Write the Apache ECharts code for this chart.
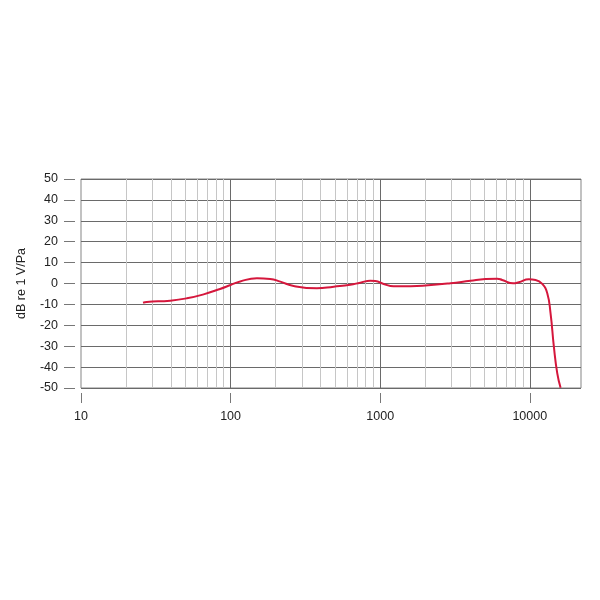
<!DOCTYPE html>
<html>
<head>
<meta charset="utf-8">
<script src="https://cdn.jsdelivr.net/npm/echarts@6/dist/echarts.min.js"></script>
<style>
  html, body { margin: 0; padding: 0; background: #fff; }
  #chart { width: 600px; height: 600px; }
</style>
</head>
<body>
<div id="chart"></div>
<script>
// frequency response
const freqs = [26, 27.5, 39.5, 51, 66, 85, 100, 116, 150, 184, 215, 264, 378, 489, 631, 736, 859, 928,
  1055, 1230, 1600, 2005, 2950, 4015, 5060, 6060, 6540, 7750, 8450, 9860, 10930, 12120, 13090,
  13770, 14490, 15270, 16070]
const levels = [-9.2, -8.8, -8.2, -7.1, -5.2, -2.6, -0.7, 1.0, 2.5, 2.2, 0.9, -1.2, -2.3, -1.5, -0.6, 0.4, 1.3, 1.2,
  -0.2, -1.3, -1.3, -1.0, 0.1, 1.3, 2.1, 2.3, 1.7, 0.1, 0.6, 2.0, 1.7, -0.2, -4.7,
  -14.3, -30.2, -43.0, -49.9]

const xTicks = [10, 100, 1000, 10000]
const majorLines = [100, 1000, 10000]
const minorLines = []
for (const d of [10, 100, 1000]) {
  for (let k = 2; k <= 9; k++) minorLines.push(d * k)
}

const font = 'Liberation Sans, Arial, sans-serif'
const textColor = '#222'

const chart = echarts.init(document.getElementById('chart'))

const option = {
  animation: false,
  grid: {
    left: 81,
    right: 19,
    top: 179,
    bottom: 212,
    show: true,
    borderColor: '#858585',
    borderWidth: 1,
    backgroundColor: 'transparent'
  },
  xAxis: {
    type: 'log',
    logBase: 10,
    min: 10,
    max: 22000,
    offset: 5,
    axisLine: { show: false, onZero: false },
    axisTick: {
      show: true,
      length: 10,
      customValues: xTicks,
      lineStyle: { color: '#777' }
    },
    axisLabel: {
      customValues: xTicks,
      formatter: v => String(Math.round(v)),
      margin: 17,
      fontSize: 12.5,
      fontFamily: font,
      color: textColor
    },
    splitLine: { show: false }
  },
  yAxis: {
    type: 'value',
    min: -50,
    max: 50,
    interval: 10,
    offset: 6,
    name: 'dB re 1 V/Pa',
    nameLocation: 'middle',
    nameGap: 47,
    nameTextStyle: {
      fontSize: 12.5,
      fontFamily: font,
      color: textColor
    },
    axisLine: { show: false, onZero: false },
    axisTick: {
      show: true,
      length: 11,
      lineStyle: { color: '#777' }
    },
    axisLabel: {
      margin: 17,
      fontSize: 12.5,
      fontFamily: font,
      color: textColor
    },
    splitLine: {
      show: true,
      lineStyle: { color: '#6a6a6a', width: 1 }
    }
  },
  series: [
    {
      type: 'line',
      data: freqs.map((f, i) => [f, levels[i]]),
      showSymbol: false,
      smooth: true,
      lineStyle: { color: '#d5173c', width: 2 },
      z: 5,
      markLine: {
        silent: true,
        symbol: 'none',
        label: { show: false },
        z: 1,
        data: [
          ...minorLines.map(v => ({ xAxis: v, lineStyle: { color: '#c6c6c6', width: 1, type: 'solid' } })),
          ...majorLines.map(v => ({ xAxis: v, lineStyle: { color: '#6a6a6a', width: 1, type: 'solid' } }))
        ]
      }
    }
  ]
}

chart.setOption(option)
</script>
</body>
</html>
